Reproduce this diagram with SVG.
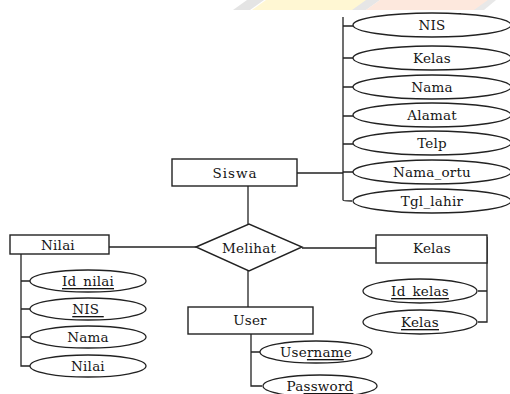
<svg xmlns="http://www.w3.org/2000/svg" width="510" height="394" viewBox="0 0 510 394">
<style>
.box{fill:#fff;stroke:#222;stroke-width:1.4}
.ell{fill:#fff;stroke:#222;stroke-width:1.3}
.ln{fill:none;stroke:#222;stroke-width:1.3}
.t{font-size:13.5px;letter-spacing:0.2px;fill:#151515;text-anchor:middle;dominant-baseline:central}
.u{text-decoration:underline}
</style>
<rect width="510" height="394" fill="#fff"/>
<g id="watermark" opacity="0.9">
<polygon points="233,10 250,10 264,0 247,0" fill="#e2e2e2"/>
<polygon points="252,10 355,10 368,0 266,0" fill="#fff7cf"/>
<polygon points="352,10 366,10 380,0 366,0" fill="#e4e4e4"/>
<polygon points="366,10 476,10 490,0 380,0" fill="#fde6da"/>
<polygon points="474,10 484,10 496,0 488,0" fill="#e6e6e6"/>
</g>
<g id="connectors">
<path class="ln" d="M343,17 V200 Q343,201 352,201"/>
<path class="ln" d="M343,26 H353 M343,58 H353 M343,87 H353 M343,116 H353 M343,144 H353 M343,172 H353"/>
<path class="ln" d="M297,173 H343"/>
<path class="ln" d="M248,186 V224"/>
<path class="ln" d="M109,247 H196"/>
<path class="ln" d="M302,248 H376"/>
<path class="ln" d="M248,271 V307"/>
<path class="ln" d="M21,253 V366 H30 M21,281 H30 M21,309 H30 M21,337 H30"/>
<path class="ln" d="M487,237 V322 H478 M487,291 H478"/>
<path class="ln" d="M251,334 V386 H262 M251,352 H260"/>
<line x1="447" y1="14" x2="461" y2="14" stroke="#111" stroke-width="2"/>
</g>
<g font-family="DejaVu Serif, serif">
<g id="siswa"><rect class="box" x="172" y="159" width="125" height="27"/><text class="t" x="235" y="173" style="letter-spacing:1px">Siswa</text></g>
<g id="melihat"><polygon class="box" points="196,247 249,224 302,247 249,271"/><text class="t" x="249" y="248">Melihat</text></g>
<g id="nilai"><rect class="box" x="10" y="235" width="99" height="19"/><text class="t" x="58" y="245">Nilai</text></g>
<g id="kelas"><rect class="box" x="376" y="235" width="111" height="28"/><text class="t" x="432" y="248">Kelas</text></g>
<g id="user"><rect class="box" x="188" y="307" width="125" height="27"/><text class="t" x="250" y="320">User</text></g>
<g id="s_nis"><ellipse class="ell" cx="432" cy="25" rx="79" ry="12"/><text class="t" x="432" y="25">NIS</text></g>
<g id="s_kelas"><ellipse class="ell" cx="432" cy="58" rx="79" ry="12"/><text class="t" x="432" y="58">Kelas</text></g>
<g id="s_nama"><ellipse class="ell" cx="432" cy="87" rx="79" ry="12"/><text class="t" x="432" y="87">Nama</text></g>
<g id="s_alamat"><ellipse class="ell" cx="432" cy="115" rx="79" ry="12"/><text class="t" x="432" y="115">Alamat</text></g>
<g id="s_telp"><ellipse class="ell" cx="432" cy="143" rx="79" ry="12"/><text class="t" x="432" y="143">Telp</text></g>
<g id="s_namaortu"><ellipse class="ell" cx="432" cy="172" rx="79" ry="12"/><text class="t" x="432" y="172">Nama_ortu</text></g>
<g id="s_tgllahir"><ellipse class="ell" cx="432" cy="201" rx="79" ry="12"/><text class="t" x="432" y="201">Tgl_lahir</text></g>
<g id="n_idnilai"><ellipse class="ell" cx="88" cy="281" rx="58" ry="11"/><text class="t u" x="88" y="281">Id_nilai</text></g>
<g id="n_nis"><ellipse class="ell" cx="88" cy="309" rx="58" ry="11"/><text class="t u" x="88" y="309" xml:space="preserve">NIS </text></g>
<g id="n_nama"><ellipse class="ell" cx="88" cy="337" rx="58" ry="11"/><text class="t" x="88" y="337">Nama</text></g>
<g id="n_nilai"><ellipse class="ell" cx="88" cy="366" rx="58" ry="11"/><text class="t" x="88" y="366">Nilai</text></g>
<g id="k_idkelas"><ellipse class="ell" cx="420" cy="291" rx="57" ry="12"/><text class="t u" x="420" y="291">Id_kelas</text></g>
<g id="k_kelas"><ellipse class="ell" cx="420" cy="322" rx="57" ry="12"/><text class="t u" x="420" y="322">Kelas</text></g>
<g id="u_username"><ellipse class="ell" cx="316" cy="352" rx="56" ry="11"/><text class="t" x="316" y="352">Use<tspan class="u">rnam</tspan>e</text></g>
<g id="u_password"><ellipse class="ell" cx="320" cy="386" rx="57" ry="11"/><text class="t" x="320" y="386">Pa<tspan class="u">ssword</tspan></text></g>
</g>
</svg>
